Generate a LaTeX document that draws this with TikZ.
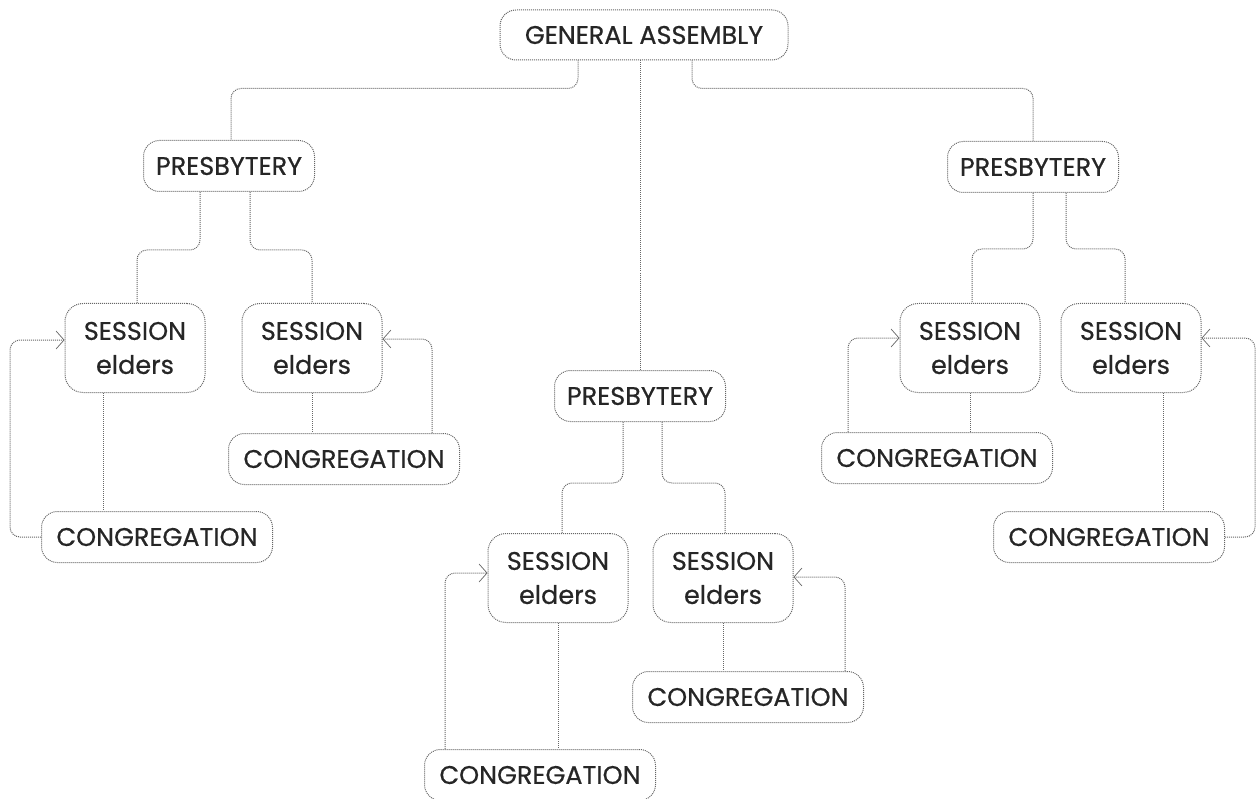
\documentclass[tikz,border=0pt]{standalone}
\usepackage{fontspec}
\setmainfont{Poppins}
\newfontfamily\chartfont[FakeBold=0.6]{Poppins}
\usetikzlibrary{positioning,arrows.meta,calc}

\begin{document}
\begin{tikzpicture}[
    x=1pt, y=-1pt,
    font=\chartfont\fontsize{25.5}{34}\selectfont,
    every node/.style={align=center, text=black!85},
    box/.style={draw=black!60, densely dotted, line width=1pt, rounded corners=16pt, inner sep=0pt},
    assembly/.style={box, minimum width=288pt, minimum height=50pt},
    presb/.style={box, minimum width=171pt, minimum height=51pt},
    sess/.style={box, minimum width=140pt, minimum height=89pt, rounded corners=18pt},
    congr/.style={box, minimum width=231pt, minimum height=51pt},
    link/.style={draw=black!60, densely dotted, line width=1pt, rounded corners=10pt},
    back/.style={link, -{Straight Barb[length=8pt, width=18pt, line width=0.7pt]}}
]
\useasboundingbox (0,0) rectangle (1257,799);

% =========================================================
% Nodes
% =========================================================
\node[assembly] (ga) at (644,35) {GENERAL ASSEMBLY};

\node[presb] (presL) at (229,166) {PRESBYTERY};
\node[presb] (presC) at (640,396) {PRESBYTERY};
\node[presb] (presR) at (1033,167) {PRESBYTERY};

\node[sess] (sesL1) at (135,348)  {SESSION\\elders};
\node[sess] (sesL2) at (312,348)  {SESSION\\elders};
\node[sess] (sesC1) at (558,578)  {SESSION\\elders};
\node[sess] (sesC2) at (723,578)  {SESSION\\elders};
\node[sess] (sesR1) at (970,348)  {SESSION\\elders};
\node[sess] (sesR2) at (1131,348) {SESSION\\elders};

\node[congr] (conL1) at (157,537)  {CONGREGATION};
\node[congr] (conL2) at (344,459)  {CONGREGATION};
\node[congr] (conC1) at (540,775)  {CONGREGATION};
\node[congr] (conC2) at (748,697)  {CONGREGATION};
\node[congr] (conR1) at (937,458)  {CONGREGATION};
\node[congr] (conR2) at (1109,537) {CONGREGATION};

% =========================================================
% Assembly -> presbyteries
% =========================================================
\draw[link] ([xshift=-66pt]ga.south) -- ++(0,28) -| ([xshift=2pt]presL.north);
\draw[link] (ga.south -| presC.north) -- (presC.north);
\draw[link] ([xshift=48pt]ga.south) -- ++(0,28) -| (presR.north);

% =========================================================
% Presbyteries -> sessions
% =========================================================
\draw[link] ([xshift=-29pt]presL.south) -- ++(0,58) -| ([xshift=2pt]sesL1.north);
\draw[link] ([xshift=21pt]presL.south)  -- ++(0,58) -| (sesL2.north);
\draw[link] ([xshift=-17pt]presC.south) -- ++(0,61) -| ([xshift=4pt]sesC1.north);
\draw[link] ([xshift=22pt]presC.south)  -- ++(0,61) -| ([xshift=2pt]sesC2.north);
\draw[link] (presR.south)               -- ++(0,56) -| ([xshift=2pt]sesR1.north);
\draw[link] ([xshift=33pt]presR.south)  -- ++(0,56) -| ([xshift=-6pt]sesR2.north);

% =========================================================
% Sessions -- congregations
% =========================================================
\draw[link] ([xshift=-32pt]sesL1.south) -- ([xshift=-32pt]sesL1.south |- conL1.north);
\draw[link] (sesL2.south) -- (sesL2.south |- conL2.north);
\draw[link] (sesC1.south) -- (sesC1.south |- conC1.north);
\draw[link] (sesC2.south) -- (sesC2.south |- conC2.north);
\draw[link] (sesR1.south) -- (sesR1.south |- conR1.north);
\draw[link] ([xshift=32pt]sesR2.south) -- ([xshift=32pt]sesR2.south |- conR2.north);

% feedback: congregation -> session
\draw[back] (conL1.west) -- ++(-31,0) |- ([yshift=8pt]sesL1.west);
\draw[back] ([xshift=88pt]conL2.north) |- ([yshift=9pt]sesL2.east);
\draw[back] ([xshift=-95pt]conC1.north) |- ([yshift=5pt]sesC1.west);
\draw[back] ([xshift=97pt]conC2.north) |- ([yshift=1pt]sesC2.east);
\draw[back] ([xshift=-89pt]conR1.north) |- ([yshift=10pt]sesR1.west);
\draw[back] (conR2.east) -- ++(30,0) |- ([yshift=10pt]sesR2.east);

\end{tikzpicture}
\end{document}
